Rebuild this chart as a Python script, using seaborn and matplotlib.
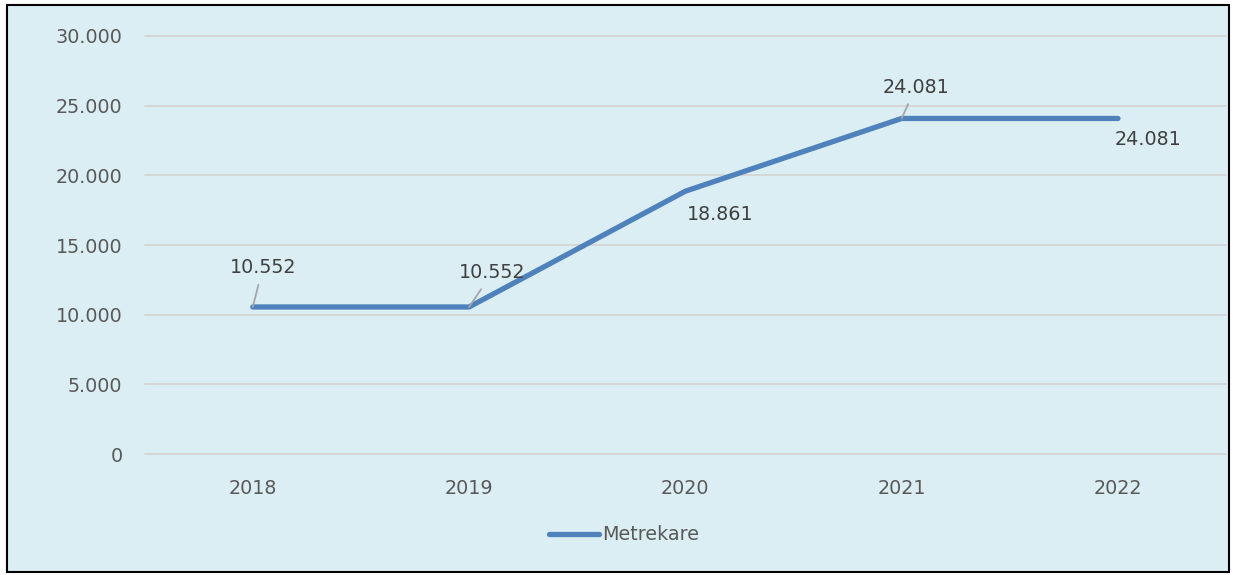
import matplotlib.pyplot as plt
import matplotlib.patches as patches
import pandas as pd
import seaborn as sns

years = [2018, 2019, 2020, 2021, 2022]
metrekare = [10552, 10552, 18861, 24081, 24081]
labels = ['10.552', '10.552', '18.861', '24.081', '24.081']
yticks = [0, 5000, 10000, 15000, 20000, 25000, 30000]
ytick_labels = ['0', '5.000', '10.000', '15.000', '20.000', '25.000', '30.000']

bg = '#DAEEF3'
line_color = '#4F81BD'

sns.set_style('white')
plt.rcParams['font.family'] = ['DejaVu Sans']

df = pd.DataFrame({'Yil': years, 'Metrekare': metrekare})

fig = plt.figure(figsize=(12.36, 5.75), dpi=100, facecolor='white')
# chart area with black frame, white outside
fig.patches.append(patches.Rectangle((0.0057, 0.0052), 0.9887, 0.986,
                                     transform=fig.transFigure, facecolor=bg,
                                     edgecolor='black', linewidth=1.5, zorder=-5))

ax = fig.add_axes([0.117, 0.2104, 0.875, 0.727])
ax.set_facecolor(bg)

sns.lineplot(data=df, x='Yil', y='Metrekare', ax=ax, color=line_color,
             linewidth=3.8, solid_capstyle='round', label='Metrekare', legend=False)

ax.set_xlim(2017.5, 2022.5)
ax.set_ylim(0, 30000)
ax.set_yticks(yticks)
ax.set_yticklabels(ytick_labels)
ax.set_xticks(years)
ax.set_xticklabels([str(y) for y in years])
ax.set_xlabel('')
ax.set_ylabel('')
ax.tick_params(axis='y', length=0, pad=16, labelsize=13.8, labelcolor='#595959')
ax.tick_params(axis='x', length=0, pad=18, labelsize=13.8, labelcolor='#595959')
ax.grid(axis='y', color='#D5D5D5', linewidth=1.3)
for gl in ax.get_ygridlines():
    gl.set_clip_on(False)
ax.set_axisbelow(True)
for s in ax.spines.values():
    s.set_visible(False)

# data labels (offsets in pixels), leader line for some
offsets = [(10, 39), (23, 34), (35, -23), (14, 31), (30, -21)]
leaders = [True, True, False, True, False]
for x, y, lab, off, ld in zip(years, metrekare, labels, offsets, leaders):
    kw = {}
    if ld:
        kw['arrowprops'] = dict(arrowstyle='-', color='#A6A6A6', lw=1.3,
                                shrinkA=3, shrinkB=0)
    ax.annotate(lab, xy=(x, y), xytext=off, textcoords='offset pixels',
                ha='center', va='center', fontsize=13.8, color='#404040', **kw)

handles, leg_labels = ax.get_legend_handles_labels()
fig.legend(handles, leg_labels, loc='center', bbox_to_anchor=(0.505, 0.0696),
           frameon=False, fontsize=13.8, labelcolor='#595959',
           handlelength=2.6, handletextpad=0.2)

fig.savefig('out.png', dpi=100, facecolor='white')
